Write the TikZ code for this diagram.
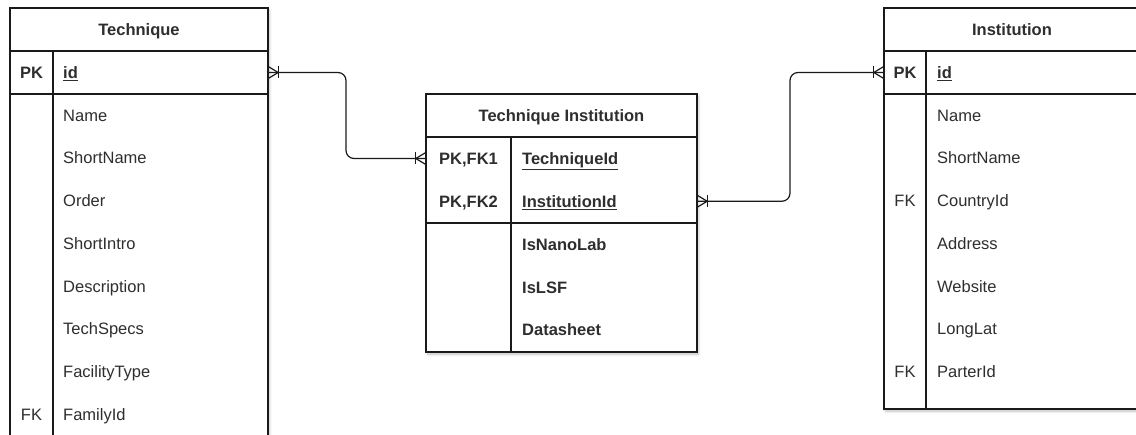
\documentclass[tikz,border=0pt]{standalone}
\usepackage{fontspec}
\setmainfont{Liberation Sans}
\usetikzlibrary{shadows.blur}

\definecolor{ink}{HTML}{1A1A1A}
\definecolor{txt}{HTML}{2E2E2E}

\tikzset{
  pics/manyone/.style={code={
    \draw[foot] (0,-6) -- (10,0) -- (0,6);
    \draw[foot] (10,-6) -- (10,6);
  }}
}

\begin{document}
\begin{tikzpicture}[x=1pt,y=-1pt,
  frame/.style={draw=ink, line width=1.2pt, fill=white,
    blur shadow={shadow xshift=1.5pt, shadow yshift=-2pt, shadow blur radius=2.5pt, shadow opacity=25}},
  sep/.style={draw=ink, line width=1.2pt},
  basefont/.style={font=\fontsize{16.5}{19}\selectfont, text=txt, inner sep=0pt},
  hdr/.style={basefont, font=\fontsize{16.5}{19}\selectfont\bfseries, anchor=base},
  keyt/.style={basefont, anchor=base},
  keyb/.style={keyt, font=\fontsize{16.5}{19}\selectfont\bfseries},
  fld/.style={basefont, anchor=base west},
  fldb/.style={fld, font=\fontsize{16.5}{19}\selectfont\bfseries},
  rowbox/.style={inner sep=0pt, minimum height=43pt},
  link/.style={draw=ink, line width=1.2pt, rounded corners=8pt},
  foot/.style={draw=ink, line width=1.2pt}
]
\useasboundingbox (0,0) rectangle (1136,435);

% ---------------- Technique ----------------
\draw[frame] (10,8) rectangle (268,470);
\draw[sep] (10,51) -- (268,51);
\draw[sep] (10,94) -- (268,94);
\draw[sep] (53,51) -- (53,470);
\node[hdr] (t-title) at (139,35.5) {Technique};
\node[rowbox, minimum width=258pt] (t-idrow) at (139,72.5) {};
\node[keyb] (t-pk) at (31.5,78.5) {PK};
\node[fldb] (t-id) at (63,78.5) {\underline{id}};
\node[fld] (t-name)  at (63,121.25) {Name};
\node[fld] (t-short) at (63,164)    {ShortName};
\node[fld] (t-order) at (63,206.75) {Order};
\node[fld] (t-intro) at (63,249.5)  {ShortIntro};
\node[fld] (t-desc)  at (63,292.25) {Description};
\node[fld] (t-spec)  at (63,335)    {TechSpecs};
\node[fld] (t-fac)   at (63,377.75) {FacilityType};
\node[keyt] (t-fk)   at (31.5,420.5){FK};
\node[fld] (t-fam)   at (63,420.5)  {FamilyId};

% ---------------- Technique Institution ----------------
\draw[frame] (426,94) rectangle (697,352);
\draw[sep] (426,137) -- (697,137);
\draw[sep] (426,223) -- (697,223);
\draw[sep] (511,137) -- (511,352);
\node[hdr] (ti-title) at (561.5,121.5) {Technique Institution};
\node[rowbox, minimum width=271pt] (ti-tidrow) at (561.5,158.5) {};
\node[rowbox, minimum width=271pt] (ti-iidrow) at (561.5,201.25) {};
\node[keyb] (ti-k1) at (468.5,164.5) {PK,FK1};
\node[fldb] (ti-tid) at (522,164.5) {\underline{TechniqueId}};
\node[keyb] (ti-k2) at (468.5,207.25) {PK,FK2};
\node[fldb] (ti-iid) at (522,207.25) {\underline{InstitutionId}};
\node[fldb] (ti-nano) at (522,250.5)  {IsNanoLab};
\node[fldb] (ti-lsf)  at (522,293.25) {IsLSF};
\node[fldb] (ti-data) at (522,336)    {Datasheet};

% ---------------- Institution ----------------
\draw[frame] (884,8) rectangle (1140,409);
\draw[sep] (884,51) -- (1140,51);
\draw[sep] (884,94) -- (1140,94);
\draw[sep] (926,51) -- (926,409);
\node[hdr] (i-title) at (1012,35.5) {Institution};
\node[rowbox, minimum width=256pt] (i-idrow) at (1012,72.5) {};
\node[keyb] (i-pk) at (905,78.5) {PK};
\node[fldb] (i-id) at (937,78.5) {\underline{id}};
\node[fld] (i-name)  at (937,121.25) {Name};
\node[fld] (i-short) at (937,164)    {ShortName};
\node[keyt] (i-fk1)  at (905,206.75) {FK};
\node[fld] (i-ctry)  at (937,206.75) {CountryId};
\node[fld] (i-addr)  at (937,249.5)  {Address};
\node[fld] (i-web)   at (937,292.25) {Website};
\node[fld] (i-ll)    at (937,335)    {LongLat};
\node[keyt] (i-fk2)  at (905,377.75) {FK};
\node[fld] (i-part)  at (937,377.75) {ParterId};

% ---------------- Relationships ----------------
\coordinate (bendA) at (346,0);
\coordinate (bendB) at (790,0);

\draw[link] (t-idrow.east) -- (t-idrow.east -| bendA)
  -- (ti-tidrow.west -| bendA) -- (ti-tidrow.west);
\draw[link] (ti-iidrow.east) -- (ti-iidrow.east -| bendB)
  -- (i-idrow.west -| bendB) -- (i-idrow.west);

\pic at (t-idrow.east) {manyone};
\pic[xscale=-1] at (ti-tidrow.west) {manyone};
\pic at (ti-iidrow.east) {manyone};
\pic[xscale=-1] at (i-idrow.west) {manyone};
\end{tikzpicture}
\end{document}
